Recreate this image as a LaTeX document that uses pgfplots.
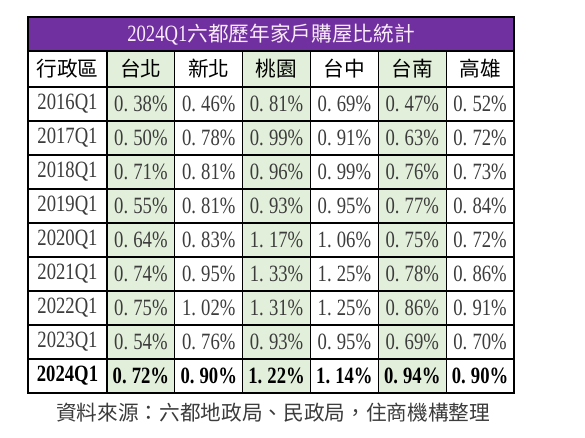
\documentclass[border=0pt]{standalone}
\usepackage{fontspec}
\setmainfont{Liberation Serif}[FakeStretch=0.8]
\newfontfamily\cjk{Noto Sans CJK TC}
\usepackage{pgfplots}
\pgfplotsset{compat=1.18}
\usepackage{pgfplotstable}
\definecolor{titlepurple}{RGB}{112,48,160}
\definecolor{cellgreen}{RGB}{226,239,218}
\definecolor{titletext}{RGB}{250,236,250}
\definecolor{numgray}{RGB}{60,60,60}

% purchase ratio (%) per city, 2016Q1-2023Q1
\pgfplotstableread{
yr     tpe  ntpc tyn  txg  tnn  khh
2016Q1 0.38 0.46 0.81 0.69 0.47 0.52
2017Q1 0.50 0.78 0.99 0.91 0.63 0.72
2018Q1 0.71 0.81 0.96 0.99 0.76 0.73
2019Q1 0.55 0.81 0.93 0.95 0.77 0.84
2020Q1 0.64 0.83 1.17 1.06 0.75 0.72
2021Q1 0.74 0.95 1.33 1.25 0.78 0.86
2022Q1 0.75 1.02 1.31 1.25 0.86 0.91
2023Q1 0.54 0.76 0.93 0.95 0.69 0.70
}\rates
% latest quarter, set in bold
\pgfplotstableread{
yr     tpe  ntpc tyn  txg  tnn  khh
2024Q1 0.72 0.90 1.22 1.14 0.94 0.90
}\latest

\pgfplotsset{
  cell/.style={draw=none, mark=none, nodes near coords align=center},
  pct/.style={point meta=explicit, nodes near coords={\pgfmathprintnumber[fixed,fixed zerofill,precision=2,dec sep={.\hspace{0.22em}}]{\pgfplotspointmeta}\%}},
}

\begin{document}
\begin{tikzpicture}
\begin{axis}[
    width=438.75pt, height=328.5pt, scale only axis,
    xmin=0, xmax=585, ymin=0, ymax=438, y dir=reverse,
    hide axis, clip=false,
    unbounded coords=jump,
    /pgf/number format/assume math mode=true,
]
% background
\addplot[fill=white, draw=none] coordinates {(0,0)(585,0)(585,438)(0,438)} -- cycle;
% title band and green columns
\addplot[fill=titlepurple, draw=none] coordinates {(28,17)(514,17)(514,51)(28,51)} -- cycle;
\addplot[fill=cellgreen, draw=none] coordinates {(107,51)(174.83,51)(174.83,393)(107,393)} -- cycle;
\addplot[fill=cellgreen, draw=none] coordinates {(242.67,51)(310.5,51)(310.5,393)(242.67,393)} -- cycle;
\addplot[fill=cellgreen, draw=none] coordinates {(378.33,51)(446.17,51)(446.17,393)(378.33,393)} -- cycle;

% inner rules
\addplot[black, line width=0.9pt] coordinates {
  (28,87)(514,87) (nan,nan)
  (28,121)(514,121) (nan,nan)
  (28,155)(514,155) (nan,nan)
  (28,189)(514,189) (nan,nan)
  (28,223)(514,223) (nan,nan)
  (28,257)(514,257) (nan,nan)
  (28,291)(514,291) (nan,nan)
  (28,325)(514,325) (nan,nan)
  (28,359)(514,359) (nan,nan)
  (107,51)(107,393) (nan,nan)
  (174.83,51)(174.83,393) (nan,nan)
  (242.67,51)(242.67,393) (nan,nan)
  (310.5,51)(310.5,393) (nan,nan)
  (378.33,51)(378.33,393) (nan,nan)
  (446.17,51)(446.17,393)
};
\addplot[black, line width=1.4pt] coordinates {(28,51)(514,51)};
\addplot[black, line width=2pt] coordinates {(28,17)(514,17)(514,393)(28,393)} -- cycle;

% title
\addplot[cell, point meta=explicit symbolic, nodes near coords,
  every node near coord/.append style={font=\fontsize{17.5}{20}\selectfont, text=titletext}]
  coordinates {(271,34.5) [{2024Q1{\cjk\fontsize{15.5}{18}\selectfont 六都歷年家戶購屋比統計}}]};

% header row
\addplot[cell, point meta=explicit symbolic, nodes near coords,
  every node near coord/.append style={font=\cjk\fontsize{15.5}{18}\selectfont, text=black}]
  table[meta=label] {
x       y  label
67.5    69 行政區
140.92  69 台北
208.75  69 新北
276.58  69 桃園
344.42  69 台中
412.25  69 台南
480.08  69 高雄
};

% row labels
\addplot[cell, point meta=explicit symbolic, nodes near coords,
  every node near coord/.append style={font=\fontsize{17.5}{20}\selectfont, text=numgray}]
  table[x expr=67.5, y expr={87+(\coordindex+0.5)*34}, meta index=0] {\rates};
\addplot[cell, point meta=explicit symbolic, nodes near coords,
  every node near coord/.append style={font=\bfseries\fontsize{17.5}{20}\selectfont, text=black}]
  table[x expr=67.5, y expr=376, meta index=0] {\latest};

% values
\pgfplotsinvokeforeach{1,...,6}{
  \addplot[cell, pct,
    every node near coord/.append style={font=\fontsize{17.5}{20}\selectfont, text=numgray}]
    table[x expr={107+(#1-0.5)*67.83}, y expr={87+(\coordindex+0.5)*34}, meta index=#1] {\rates};
  \addplot[cell, pct,
    every node near coord/.append style={font=\bfseries\fontsize{17.5}{20}\selectfont, text=black}]
    table[x expr={107+(#1-0.5)*67.83}, y expr=376, meta index=#1] {\latest};
}

% source note
\addplot[cell, point meta=explicit symbolic, nodes near coords,
  every node near coord/.append style={font=\cjk\fontsize{15.5}{18}\selectfont, text=numgray}]
  coordinates {(273,413) [{資料來源：六都地政局、民政局，住商機構整理}]};
\end{axis}
\end{tikzpicture}
\end{document}
